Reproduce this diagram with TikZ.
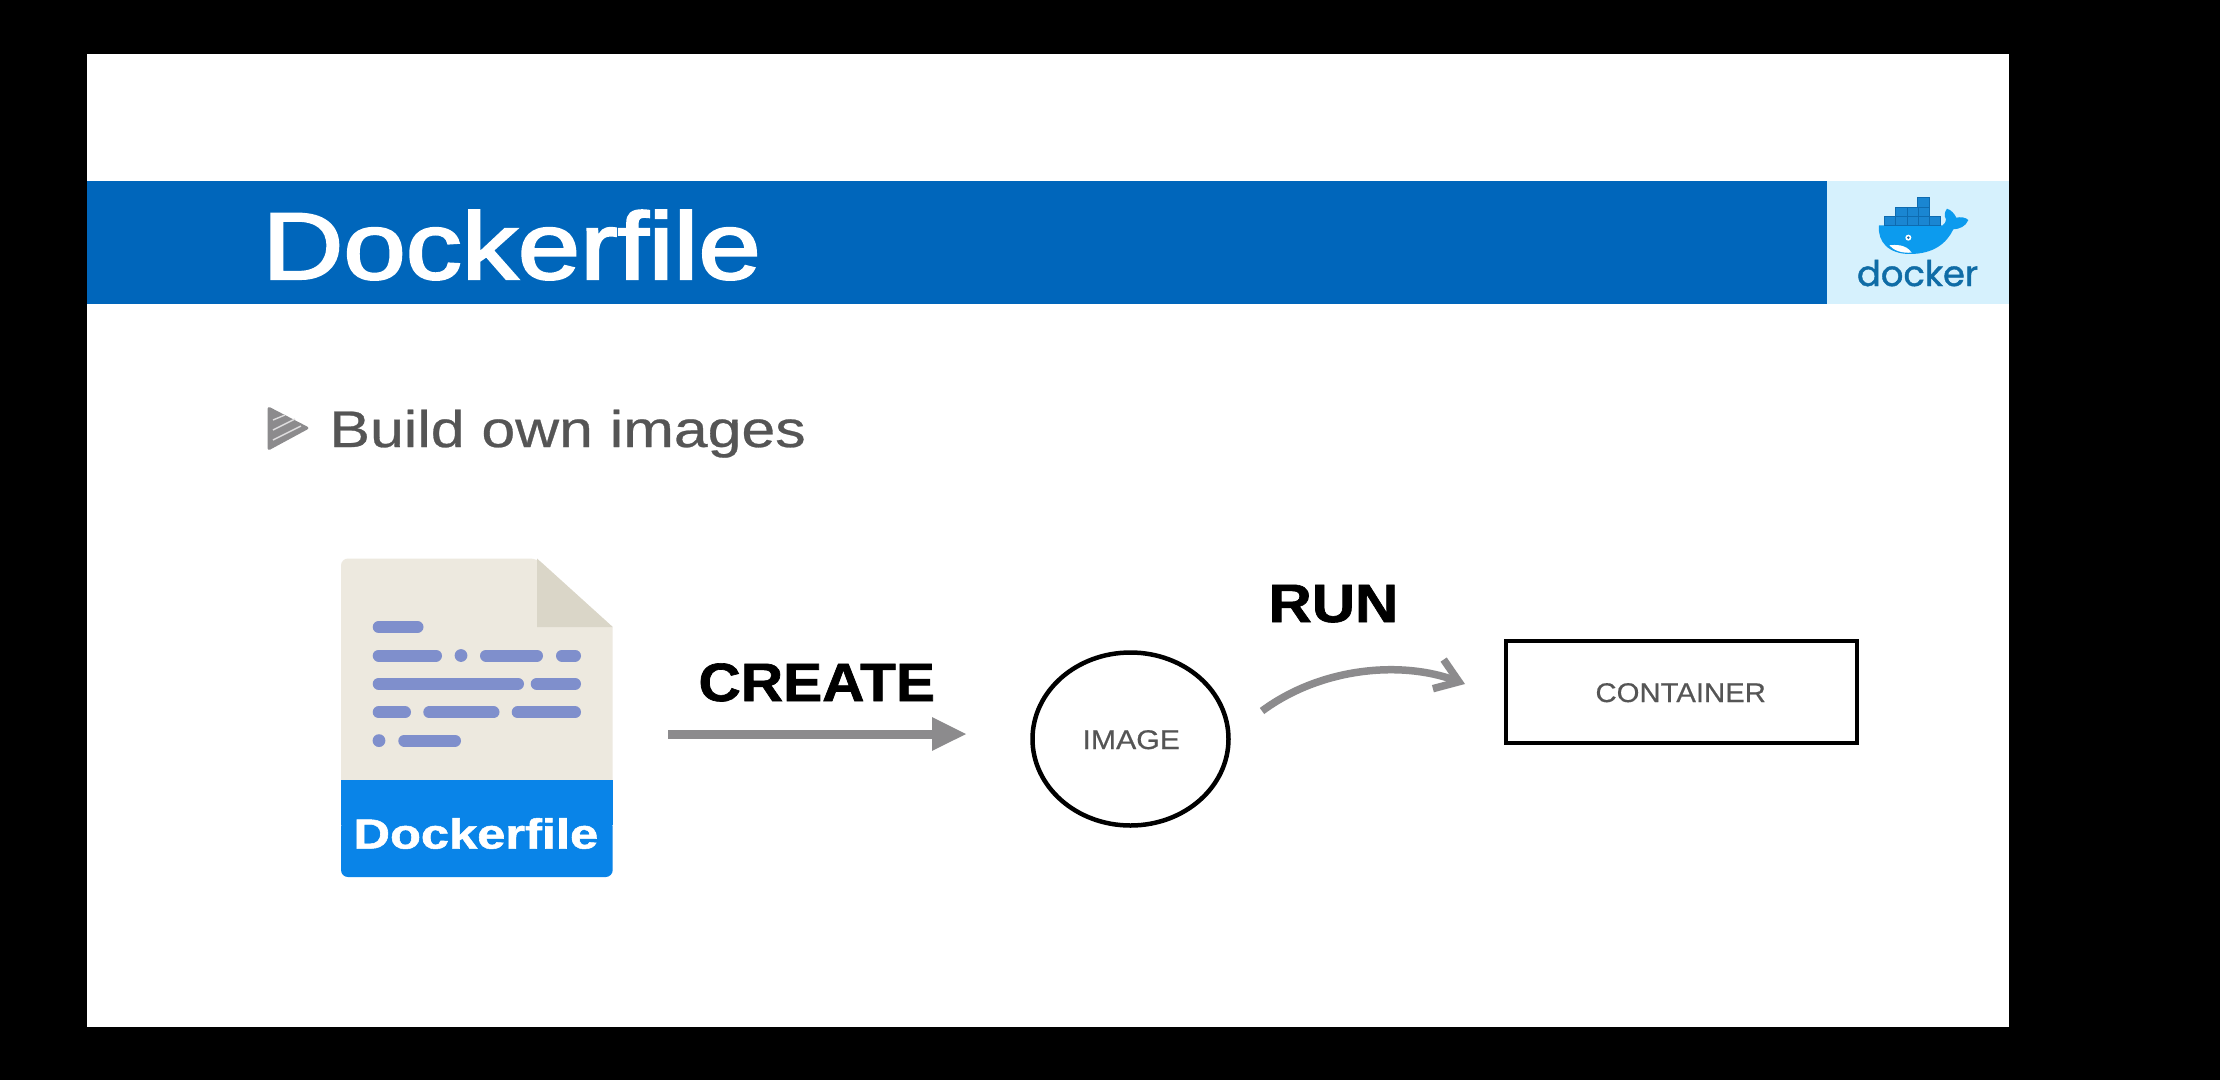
\documentclass[tikz,border=0pt]{standalone}
\usepackage{fontspec}
\usepackage{graphicx}
\setmainfont{Liberation Sans}
\newfontfamily\dockerfont[FakeBold=1.2]{Poppins}
\newfontfamily\titlefont[FakeBold=2.2]{Liberation Sans}
\newfontfamily\bulletfont[FakeBold=0.5]{Liberation Sans}
\newfontfamily\heavyfont[FakeBold=1.2]{Liberation Sans Bold}
\usetikzlibrary{arrows.meta,shapes.geometric}
\definecolor{banner}{HTML}{0066BB}
\definecolor{pale}{HTML}{D6F1FD}
\definecolor{docbg}{HTML}{EDE9DF}
\definecolor{docfold}{HTML}{DAD6C8}
\definecolor{docline}{HTML}{7F8FCC}
\definecolor{docblue}{HTML}{0984E8}
\definecolor{arrowgray}{HTML}{8C8B8D}
\definecolor{textgray}{HTML}{555555}
\definecolor{whale}{HTML}{0C9BEE}
\definecolor{crate}{HTML}{1A86D2}
\definecolor{crateline}{HTML}{0E6BB0}
\definecolor{dockertext}{HTML}{0F6CA6}
\newcommand{\fs}[1]{\fontsize{#1}{#1}\selectfont}
\tikzset{
  label text/.style={anchor=base west,inner sep=0pt,outer sep=0pt},
  code bar/.style={draw=docline,line width=12pt,line cap=round},
  code dot/.style={fill=docline,draw=none},
  thick gray/.style={draw=arrowgray,line width=9pt},
  outline/.style={draw=black,line width=4.5pt,fill=white,inner sep=0pt,minimum width=0pt},
  crate box/.style={fill=crate,draw=crateline,line width=0.8pt},
}
\begin{document}
\begin{tikzpicture}[x=1pt,y=-1pt]
\useasboundingbox (0,0) rectangle (2220,1080);
% black frame and slide
\fill[black] (0,0) rectangle (2220,1080);
\fill[white] (86.5,54) rectangle (2009,1027);
% banner
\fill[banner] (86.5,181) rectangle (1827,303.5);
\fill[pale] (1827,181) rectangle (2009,303.5);
\node[label text,text=white] (title) at (262.5,279) {\titlefont\fs{95}\scalebox{1.18}[1]{Dockerfile}};
% docker logo
\begin{scope}[shift={(1800,170)},x=0.3333pt,y=-0.3333pt]
  \fill[whale] (237,166) -- (428,166) .. controls (434,162) and (438,156) .. (438,148)
    .. controls (432,138) and (433,126) .. (441,116)
    .. controls (454,120) and (464,132) .. (469,143)
    .. controls (482,140) and (497,142) .. (505,150)
    .. controls (497,170) and (478,177) .. (460,178)
    .. controls (440,220) and (400,252) .. (330,252)
    .. controls (265,252) and (232,215) .. (237,166) -- cycle;
  \fill[white] (268,226) .. controls (285,224) and (318,222) .. (335,248)
    .. controls (305,250) and (282,242) .. (268,226) -- cycle;
  \filldraw[crate box] (253,140) rectangle (287,167);
  \filldraw[crate box] (287,140) rectangle (321,167);
  \filldraw[crate box] (321,140) rectangle (355,167);
  \filldraw[crate box] (355,140) rectangle (388,167);
  \filldraw[crate box] (388,140) rectangle (420,167);
  \filldraw[crate box] (287,112) rectangle (321,140);
  \filldraw[crate box] (321,112) rectangle (355,140);
  \filldraw[crate box] (355,112) rectangle (388,140);
  \filldraw[crate box] (351,83) rectangle (387,112);
  \fill[white] (325,203) circle (9);
  \fill[crateline] (325,203) circle (4);
\end{scope}
\node[label text,text=dockertext] (dockerword) at (1857,286) {\dockerfont\fs{35.3}docker};
% bullet
\fill[arrowgray,rounded corners=3pt] (267.5,406) -- (310,428) -- (267.5,451) -- cycle;
\draw[white!70!arrowgray,line width=1.4pt] (273,420) -- (285,415);
\draw[white!70!arrowgray,line width=1.4pt] (273,430) -- (295,419);
\draw[white!70!arrowgray,line width=1.4pt] (273,440) -- (301,426);
\node[label text,text=textgray] (bullet) at (329.5,447) {\bulletfont\fs{51.5}\scalebox{1.18}[1]{Build own images}};
% document icon
\fill[docbg,rounded corners=7pt] (341,780) -- (341,558.5) -- (537,558.5) [sharp corners] -- (612.7,627) -- (612.7,780) -- cycle;
\fill[docfold] (537,558.5) -- (612.7,627) -- (537,627) -- cycle;
\fill[docblue,rounded corners=7pt] (341,820) -- (341,877) -- (612.7,877) -- (612.7,820) -- cycle;
\fill[docblue] (341,780) rectangle (612.7,825);
\draw[code bar] (378.7,627) -- (417.5,627);
\draw[code bar] (378.7,655.5) -- (436,655.5);
\fill[code dot] (461,655.5) circle (6.4);
\draw[code bar] (486,655.5) -- (537,655.5);
\draw[code bar] (562,655.5) -- (575,655.5);
\draw[code bar] (378.7,683.8) -- (518,683.8);
\draw[code bar] (536.7,683.8) -- (575,683.8);
\draw[code bar] (378.7,712.3) -- (405,712.3);
\draw[code bar] (429.3,712.3) -- (493.5,712.3);
\draw[code bar] (517.7,712.3) -- (575,712.3);
\fill[code dot] (379,740.6) circle (6.4);
\draw[code bar] (404.3,740.6) -- (455,740.6);
\node[label text,text=white] (docname) at (353.5,848.5) {\heavyfont\fs{42}\scalebox{1.205}[1]{Dockerfile}};
% CREATE
\node[label text,text=black] (createlabel) at (698.5,701) {\heavyfont\fs{54}\scalebox{1.085}[1]{CREATE}};
\coordinate (createstart) at (668,734);
\coordinate (createend) at (967,734);
\draw[thick gray,-{Triangle[length=35pt,width=31pt]},arrowgray] (createstart) -- (createend);
% IMAGE
\node[outline,ellipse,minimum width=196pt,minimum height=173pt] (image) at (1130.5,739) {};
\node[label text,text=textgray] (imagelabel) at (1082.5,749) {\bulletfont\fs{27}\scalebox{1.12}[1]{IMAGE}};
% RUN
\node[label text,text=black] (runlabel) at (1268.5,622) {\heavyfont\fs{54}\scalebox{1.11}[1]{RUN}};
\coordinate (runstart) at (1262,711);
\coordinate (runend) at (1465,684);
\draw[draw=arrowgray,line width=7.5pt,-{Straight Barb[length=22pt,width=31pt,line width=7.5pt]}]
  (runstart) .. controls (1320,668) and (1400,660) .. (runend);
% CONTAINER
\node[outline,rectangle,minimum width=351pt,minimum height=102pt] (container) at (1681.5,692) {};
\node[label text,text=textgray] (containerlabel) at (1595.5,702) {\bulletfont\fs{27}\scalebox{1.085}[1]{CONTAINER}};
\end{tikzpicture}
\end{document}
